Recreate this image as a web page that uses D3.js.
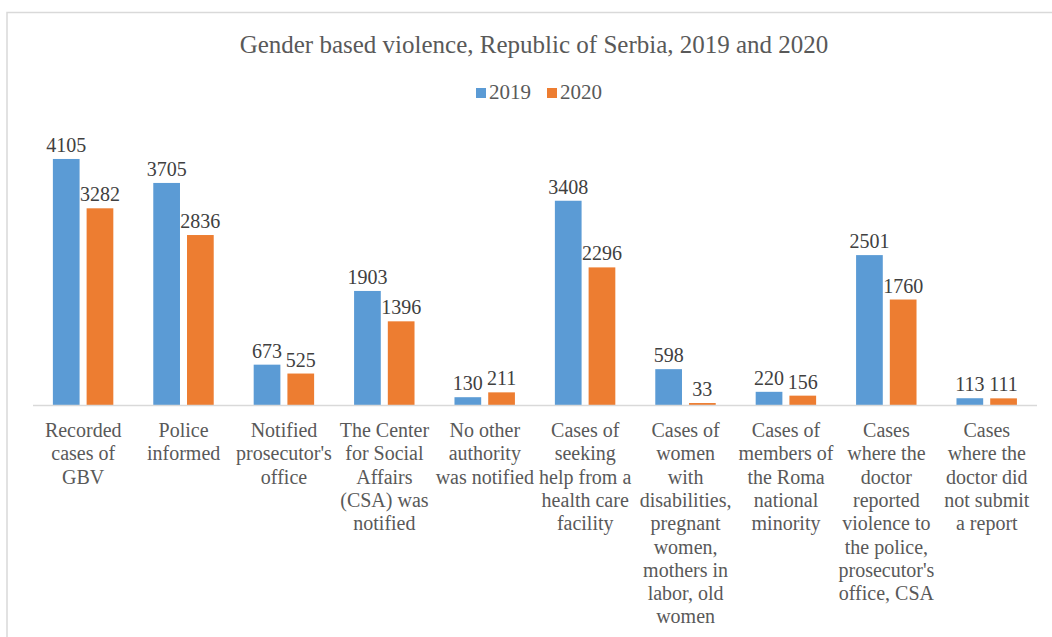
<!DOCTYPE html>
<html>
<head>
<meta charset="utf-8">
<script src="https://cdn.jsdelivr.net/npm/d3@7"></script>
</head>
<body style="margin:0; background:#fff">
<svg id="chart" width="1052" height="637"></svg>
<script>
// data
const categories = [
    "Recorded\ncases of\nGBV",
    "Police\ninformed",
    "Notified\nprosecutor's\noffice",
    "The Center\nfor Social\nAffairs\n(CSA) was\nnotified",
    "No other\nauthority\nwas notified",
    "Cases of\nseeking\nhelp from a\nhealth care\nfacility",
    "Cases of\nwomen\nwith\ndisabilities,\npregnant\nwomen,\nmothers in\nlabor, old\nwomen",
    "Cases of\nmembers of\nthe Roma\nnational\nminority",
    "Cases\nwhere the\ndoctor\nreported\nviolence to\nthe police,\nprosecutor's\noffice, CSA",
    "Cases\nwhere the\ndoctor did\nnot submit\na report"
];
const values2019 = [4105, 3705, 673, 1903, 130, 3408, 598, 220, 2501, 113];
const values2020 = [3282, 2836, 525, 1396, 211, 2296, 33, 156, 1760, 111];
const seriesNames = ["2019", "2020"];
const colors = ["#5b9bd5", "#ed7d31"];

const FONT = "'Liberation Serif'";
const svg = d3.select("#chart");

// chart frame
svg.append("rect")
    .attr("x", 7).attr("y", 12.5)
    .attr("width", 1100).attr("height", 700)
    .style("fill", "none")
    .style("stroke", "#d9d9d9")
    .style("stroke-width", 1.5);

// title
svg.append("text")
    .attr("x", 534).attr("y", 53)
    .attr("text-anchor", "middle")
    .style("font-family", FONT)
    .style("font-size", "25px")
    .style("fill", "#595959")
    .text("Gender based violence, Republic of Serbia, 2019 and 2020");

// legend
let legendX = [476, 547];
seriesNames.forEach((name, i) => {
    let g = svg.append("g").attr("transform", "translate(" + legendX[i] + ",88)");
    g.append("rect").attr("width", 10).attr("height", 10).style("fill", colors[i]);
    g.append("text")
        .attr("x", 13).attr("y", 10.5)
        .style("font-family", FONT)
        .style("font-size", "21px")
        .style("fill", "#595959")
        .text(name);
});

// scales
let x = d3.scaleBand()
    .domain(d3.range(categories.length))
    .range([33, 1037]);
let y = d3.scaleLinear().domain([0, 4500]).range([405, 135.3]);

let bw = x.bandwidth();
let barWidth = bw * 0.266;
let barOffsets = [bw * 0.198, bw * 0.198 + barWidth + bw * 0.07];

let series = [values2019, values2020];
series.forEach((vals, s) => {
    svg.append("g")
        .selectAll("rect")
        .data(vals)
        .join("rect")
        .attr("x", (d, i) => x(i) + barOffsets[s])
        .attr("y", d => y(d))
        .attr("width", barWidth)
        .attr("height", d => y(0) - y(d))
        .style("fill", colors[s]);

    svg.append("g")
        .selectAll("text")
        .data(vals)
        .join("text")
        .attr("x", (d, i) => x(i) + barOffsets[s] + barWidth / 2)
        .attr("y", d => y(d) - 7)
        .attr("text-anchor", "middle")
        .style("font-family", FONT)
        .style("font-size", "20px")
        .style("fill", "#404040")
        .text(d => d);
});

// x axis line
svg.append("line")
    .attr("x1", 33).attr("x2", 1037)
    .attr("y1", 405.5).attr("y2", 405.5)
    .style("stroke", "#d9d9d9")
    .style("stroke-width", 1.5);

// category labels
let labels = svg.append("g")
    .selectAll("text")
    .data(categories)
    .join("text")
    .attr("text-anchor", "middle")
    .style("font-family", FONT)
    .style("font-size", "20px")
    .style("fill", "#595959")
    .attr("transform", (d, i) => "translate(" + (x(i) + bw / 2) + ",437)");

labels.selectAll("tspan")
    .data(d => d.split("\n"))
    .join("tspan")
    .attr("x", 0)
    .attr("y", (d, i) => i * 23.3)
    .text(d => d);
</script>
</body>
</html>
